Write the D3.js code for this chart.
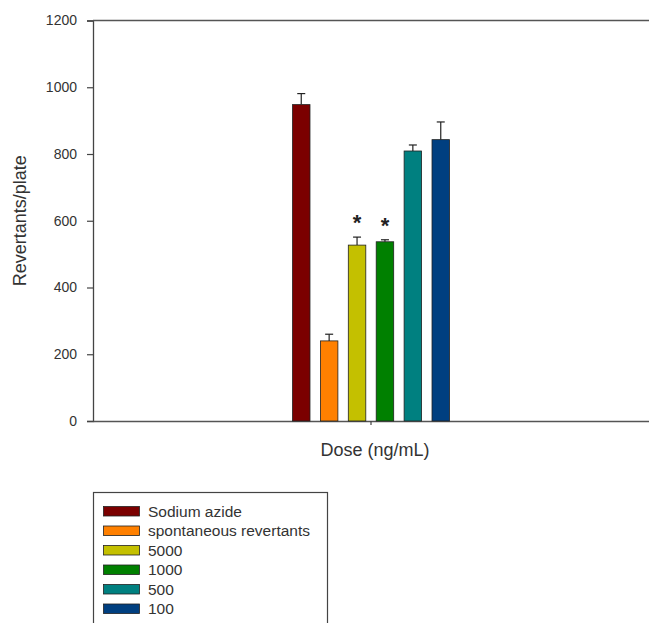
<!DOCTYPE html>
<html>
<head>
<meta charset="utf-8">
<script src="https://cdn.jsdelivr.net/npm/d3@7/dist/d3.min.js"></script>
<style>
  html, body { margin: 0; padding: 0; background: #fff; }
  svg { display: block; font-family: Arial, "Liberation Sans", sans-serif; }
</style>
</head>
<body>
<svg id="chart" width="649" height="623"></svg>
<script>
// Ames test revertant counts per treatment
const groups = ["Dose (ng/mL)"];
const series = ["Sodium azide", "spontaneous revertants", "5000", "1000", "500", "100"];
const means = [948, 240, 527, 537, 809, 843];
const errors = [33, 20, 24, 6, 18, 53];
const significant = [false, false, true, true, false, false];
const colors = ["#7b0000", "#ff8000", "#c4c000", "#008000", "#008080", "#003f80"];
const yTicks = [0, 200, 400, 600, 800, 1000, 1200];

const svg = d3.select("#chart");
const plotLeft = 93, plotRight = 649, plotTop = 20.5, plotBottom = 421;

const y = d3.scaleLinear().domain([0, 1200]).range([plotBottom, plotTop]);
const x0 = d3.scaleBand().domain(groups).range([plotLeft, plotRight]);
const gCenter = x0(groups[0]) + x0.bandwidth() / 2;
const groupSpan = 157;
const x1 = d3.scaleBand().domain(series)
  .range([gCenter - groupSpan / 2, gCenter + groupSpan / 2])
  .paddingInner(0.373).paddingOuter(0);

const axisColor = "#444";

// left axis
const yAxis = svg.append("g")
  .attr("transform", `translate(${plotLeft},0)`)
  .call(d3.axisLeft(y).tickValues(yTicks).tickSize(6).tickPadding(10).tickFormat(d3.format("d")));
yAxis.select(".domain").attr("stroke", axisColor).attr("stroke-width", 1.3);
yAxis.selectAll(".tick line").attr("stroke", axisColor).attr("stroke-width", 1.2);
yAxis.selectAll(".tick text").attr("fill", "#333").attr("font-size", 14);

// top frame line
svg.append("line")
  .attr("x1", plotLeft).attr("x2", plotRight)
  .attr("y1", y(1200)).attr("y2", y(1200))
  .attr("stroke", "#555").attr("stroke-width", 1.6);

// bottom axis
const xAxis = svg.append("g")
  .attr("transform", `translate(0,${plotBottom})`)
  .call(d3.axisBottom(x0).tickSize(4).tickSizeOuter(0).tickFormat(""));
xAxis.select(".domain").attr("stroke", "#555").attr("stroke-width", 1.6);
xAxis.selectAll(".tick line").attr("stroke", axisColor).attr("stroke-width", 1.2);

// bars
const rows = series.map((s, i) => ({ s, v: means[i], e: errors[i], sig: significant[i], c: colors[i] }));

const bars = svg.append("g");
bars.selectAll("rect").data(rows).join("rect")
  .attr("x", d => x1(d.s))
  .attr("y", d => y(d.v))
  .attr("width", x1.bandwidth())
  .attr("height", d => y(0) - y(d.v))
  .attr("fill", d => d.c)
  .attr("stroke", "#222")
  .attr("stroke-width", 0.8);

// error bars (upper only)
const err = svg.append("g").attr("stroke", "#222").attr("stroke-width", 1.2);
rows.forEach(d => {
  const cx = x1(d.s) + x1.bandwidth() / 2;
  err.append("line").attr("x1", cx).attr("x2", cx).attr("y1", y(d.v)).attr("y2", y(d.v + d.e));
  err.append("line").attr("x1", cx - 4).attr("x2", cx + 4).attr("y1", y(d.v + d.e)).attr("y2", y(d.v + d.e));
});

// significance markers
svg.append("g").selectAll("text").data(rows.filter(d => d.sig)).join("text")
  .attr("x", d => x1(d.s) + x1.bandwidth() / 2)
  .attr("y", d => y(d.v + d.e) - 7)
  .attr("text-anchor", "middle")
  .attr("font-size", 22)
  .attr("font-weight", "bold")
  .attr("fill", "#222")
  .text("*");

// axis titles
svg.append("text")
  .attr("transform", `translate(26,${(plotTop + plotBottom) / 2}) rotate(-90)`)
  .attr("text-anchor", "middle")
  .attr("font-size", 18)
  .attr("fill", "#333")
  .text("Revertants/plate");

svg.append("text")
  .attr("x", gCenter + 4)
  .attr("y", 456)
  .attr("text-anchor", "middle")
  .attr("font-size", 18)
  .attr("fill", "#333")
  .text("Dose (ng/mL)");

// legend
const legend = svg.append("g");
legend.append("rect")
  .attr("x", 93.5).attr("y", 492.5)
  .attr("width", 234).attr("height", 140)
  .attr("fill", "#fff").attr("stroke", "#444").attr("stroke-width", 1.2);

const item = legend.selectAll("g.item").data(rows).join("g")
  .attr("class", "item")
  .attr("transform", (d, i) => `translate(0,${506 + i * 19.5})`);
item.append("rect")
  .attr("x", 103.5).attr("y", 0.5)
  .attr("width", 36).attr("height", 9.5)
  .attr("fill", d => d.c)
  .attr("stroke", "#222").attr("stroke-width", 0.8);
item.append("text")
  .attr("x", 148).attr("y", 5.5)
  .attr("dy", "0.35em")
  .attr("font-size", 15.5)
  .attr("fill", "#333")
  .text(d => d.s);
</script>
</body>
</html>
